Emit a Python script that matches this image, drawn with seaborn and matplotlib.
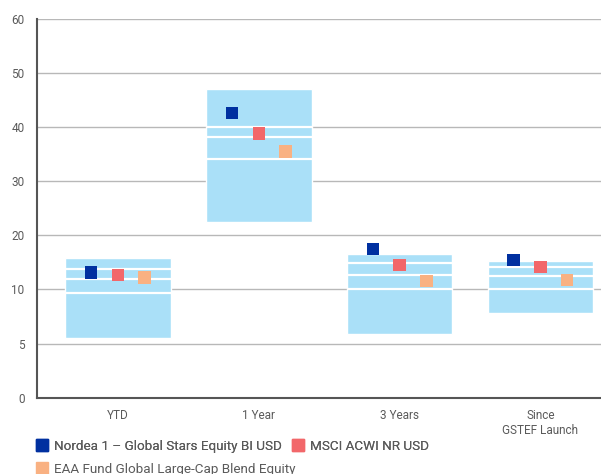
import numpy as np
import pandas as pd
import matplotlib
matplotlib.use("Agg")
import matplotlib.pyplot as plt
from matplotlib.lines import Line2D
import seaborn as sns

# data
categories = ["YTD", "1 Year", "3 Years", "Since\nGSTEF Launch"]
box_low = [5.5, 22.5, 5.9, 7.8]
box_high = [15.8, 47.1, 16.6, 15.3]
q_upper = [13.8, 40.1, 14.9, 14.2]
q_mid = [11.9, 38.2, 12.7, 12.4]
q_lower = [9.7, 34.2, 10.0, 10.1]
nordea = [13.1, 42.6, 17.5, 15.5]
msci = [12.7, 38.8, 14.5, 14.2]
eaa = [12.2, 35.5, 11.6, 11.8]
series_names = ["Nordea 1 – Global Stars Equity BI USD", "MSCI ACWI NR USD",
                "EAA Fund Global Large-Cap Blend Equity"]
yticks = [0, 5, 10, 20, 30, 40, 50, 60]

colors = ["#0030a0", "#f2676a", "#f9b182"]
box_color = "#aae0f8"
text_color = "#5a5a5a"

sns.set_style("white")
plt.rcParams["font.family"] = ["Roboto", "DejaVu Sans"]


# axis is stretched below 10 (0-5-10 take the same room as 10-20)
def fwd(v):
    v = np.asarray(v, dtype=float)
    return np.where(v <= 10, v / 5.0, 2 + (v - 10) / 10.0)


def inv(p):
    p = np.asarray(p, dtype=float)
    return np.where(p <= 2, p * 5.0, 10 + (p - 2) * 10.0)


fig = plt.figure(figsize=(6.01, 4.74), dpi=100)
ax = fig.add_axes([0.0616, 0.161, 0.9384, 0.799])
ax.set_yscale("function", functions=(fwd, inv))

x = np.arange(len(categories))
width = 0.75

# peer range boxes
ax.bar(x, np.array(box_high) - np.array(box_low), bottom=box_low, width=width,
       color=box_color, zorder=2)
for q in (q_upper, q_mid, q_lower):
    ax.hlines(q, x - width / 2, x + width / 2, color="white", lw=1.6, zorder=3)

# fund / index / category markers
offsets = [-0.19, 0.0, 0.19]
rows = []
for name, vals, off in zip(series_names, [nordea, msci, eaa], offsets):
    for i, v in enumerate(vals):
        rows.append({"x": i + off, "value": v, "series": name})
df = pd.DataFrame(rows)
sns.scatterplot(data=df, x="x", y="value", hue="series", palette=colors,
                marker="s", s=80, linewidth=0, legend=False, ax=ax, zorder=4)

ax.set_xlim(-0.574, 3.43)
ax.set_ylim(0, 60)
ax.set_yticks(yticks)
ax.set_yticklabels([str(t) for t in yticks])
ax.yaxis.set_minor_locator(matplotlib.ticker.NullLocator())
ax.set_xticks(x)
ax.set_xticklabels(categories, linespacing=1.25)
ax.set_xlabel("")
ax.set_ylabel("")

ax.set_axisbelow(True)
ax.yaxis.grid(True, color="#b8b8b8", lw=1)
ax.xaxis.grid(False)
for s in ("top", "right"):
    ax.spines[s].set_visible(False)
for s in ("left", "bottom"):
    ax.spines[s].set_color("#555555")
    ax.spines[s].set_linewidth(1.5)
ax.tick_params(axis="both", length=0, labelsize=8.5, colors=text_color)
ax.tick_params(axis="y", pad=9)
ax.tick_params(axis="x", pad=8)

# legend: two entries on the first row, the third wraps below
handles = [Line2D([], [], marker="s", ls="none", color=c, markersize=8.8)
           for c in colors]
leg_kw = dict(loc="upper left", frameon=False, fontsize=9.7,
              labelcolor=text_color, handlelength=0.9, handletextpad=0.4,
              columnspacing=0.8, borderaxespad=0, borderpad=0)
leg1 = fig.legend(handles[:2], series_names[:2], ncol=2,
                  bbox_to_anchor=(0.060, 0.072), **leg_kw)
fig.add_artist(leg1)
fig.legend(handles[2:], series_names[2:], ncol=1,
           bbox_to_anchor=(0.060, 0.023), **leg_kw)

fig.savefig("out.png", dpi=100)
